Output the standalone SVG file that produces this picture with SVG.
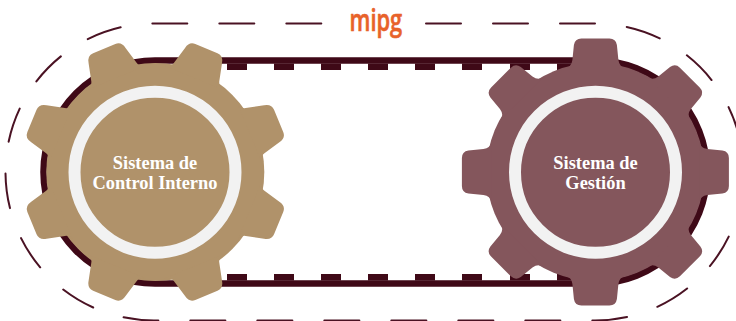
<svg xmlns="http://www.w3.org/2000/svg" width="736" height="321" viewBox="0 0 736 321">
<style>
.belt{fill:none;stroke:#3f0917;stroke-width:6.5}
.tick{fill:#3f0917}
.dash{fill:none;stroke:#4a1223;stroke-width:2;stroke-linecap:round;stroke-dasharray:35 32}
.ring{fill:none;stroke:#f2f2f2;stroke-width:12}
.tan{fill:#b0926a}
.mauve{fill:#84565c}
.lbl{font-family:"Liberation Serif","DejaVu Serif",serif;font-weight:700;font-size:18.4px;fill:#fff;text-anchor:middle}
.logo{font-family:"Open Sans","Noto Sans",sans-serif;font-weight:600;font-size:30px;fill:#e8622a;stroke:#e8622a;stroke-width:.6;stroke-linejoin:round}
</style>
<defs>
<path id="toothA" d="M-33,-102 Q-26,-102 -24.5,-108 L-20,-126 Q-18.5,-133.5 -12,-133.5 L12,-133.5 Q18.5,-133.5 20,-126 L24.5,-108 Q26,-102 33,-102 Z"/>
<path id="toothB" d="M-30,-104 Q-24,-105 -23,-112 L-21.5,-127 Q-20.5,-133.5 -14,-133.5 L14,-133.5 Q20.5,-133.5 21.5,-127 L23,-112 Q24,-105 30,-104 Z"/>
<g id="ticks">
<rect x="227" width="20" height="6.5"/><rect x="274" width="20" height="6.5"/><rect x="321" width="20" height="6.5"/><rect x="368" width="20" height="6.5"/><rect x="415" width="20" height="6.5"/><rect x="462" width="20" height="6.5"/><rect x="510" width="20" height="6.5"/><rect x="557" width="20" height="6.5"/>
</g>
</defs>
<g id="connectors">
<path class="dash" d="M426,23.5 H595 A148.5,148.5 0 0 1 595,320.5 H154 A148.5,148.5 0 0 1 154,23.5 H330"/>
<path class="belt" d="M155,60.5 H595.5 A111.5,111.5 0 0 1 595.5,283.5 H155 A111.5,111.5 0 0 1 155,60.5 Z"/>
<use href="#ticks" class="tick" y="63.5"/>
<use href="#ticks" class="tick" y="274"/>
</g>
<g id="logo"><text class="logo" transform="translate(349.5,31) scale(0.73,1)">mipg</text></g>
<g id="gear-control-interno">
<g class="tan" transform="translate(155.3,172)">
<circle r="109"/>
<use href="#toothA" transform="rotate(22.5)"/><use href="#toothA" transform="rotate(67.5)"/><use href="#toothA" transform="rotate(112.5)"/><use href="#toothA" transform="rotate(157.5)"/><use href="#toothA" transform="rotate(202.5)"/><use href="#toothA" transform="rotate(247.5)"/><use href="#toothA" transform="rotate(292.5)"/><use href="#toothA" transform="rotate(337.5)"/>
</g>
<circle class="ring" cx="155" cy="172.2" r="80.5"/>
<text class="lbl" x="155" y="169">Sistema de</text>
<text class="lbl" x="155" y="188.5">Control Interno</text>
</g>
<g id="gear-gestion">
<g class="mauve" transform="translate(595.4,172)">
<circle r="109"/>
<use href="#toothB"/><use href="#toothB" transform="rotate(45)"/><use href="#toothB" transform="rotate(90)"/><use href="#toothB" transform="rotate(135)"/><use href="#toothB" transform="rotate(180)"/><use href="#toothB" transform="rotate(225)"/><use href="#toothB" transform="rotate(270)"/><use href="#toothB" transform="rotate(315)"/>
</g>
<circle class="ring" cx="595.5" cy="172.2" r="80.5"/>
<text class="lbl" x="595.5" y="169">Sistema de</text>
<text class="lbl" x="595.5" y="188.5">Gestión</text>
</g>
</svg>
